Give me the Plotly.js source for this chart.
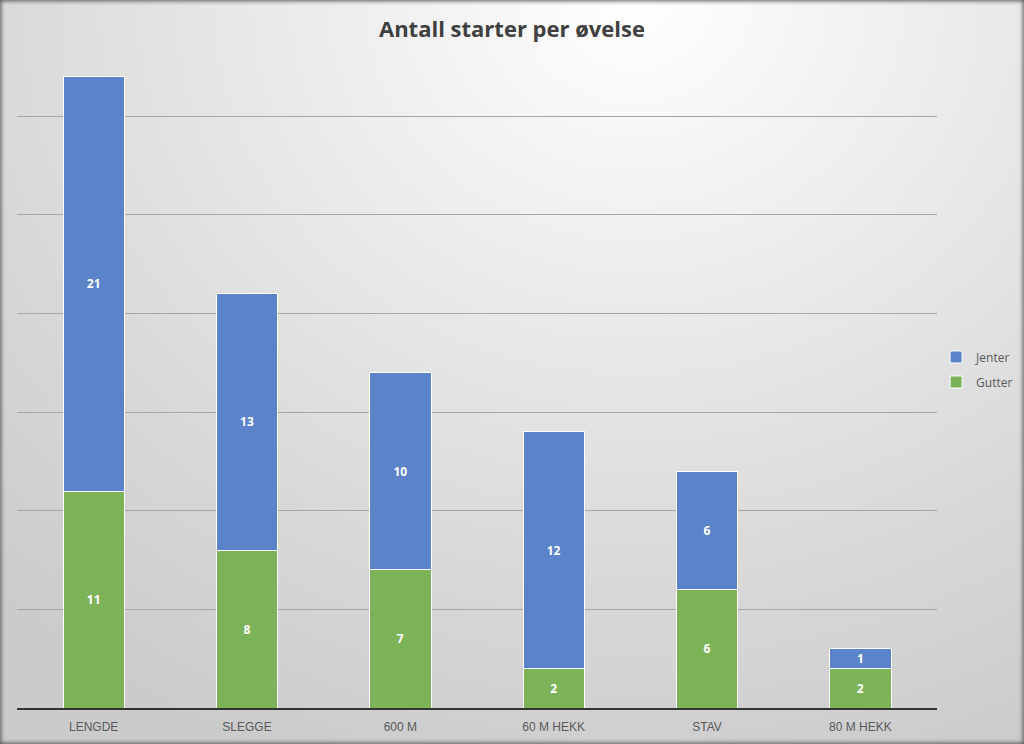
<!DOCTYPE html>
<html>
<head>
<meta charset="utf-8">
<script src="https://cdn.plot.ly/plotly-3.0.1.min.js"></script>
<style>
html,body{margin:0;padding:0;}
#wrap{width:1024px;height:744px;position:relative;overflow:hidden;
 background: radial-gradient(ellipse 90% 110% at 62% 0%, #ffffff 0%, #ececec 35%, #d9d9d9 70%, #cbcbcb 100%);
 box-shadow: inset 0 0 4px 1px #555;}
#chart{width:1024px;height:744px;}
</style>
</head>
<body>
<div id="wrap"><div id="chart"></div></div>
<script>
const categories = ["LENGDE", "SLEGGE", "600 M", "60 M HEKK", "STAV", "80 M HEKK"];
const gutter = [11, 8, 7, 2, 6, 2];
const jenter = [21, 13, 10, 12, 6, 1];

const labelFont = {family: "Open Sans, Liberation Sans, sans-serif", size: 12, color: "#ffffff", weight: "bold"};

const traces = [
  {type: "bar", name: "Gutter", legendgroup: "g", legendrank: 2, x: categories, y: gutter, text: gutter.map(String),
   textposition: "inside", insidetextanchor: "middle", textangle: 0, textfont: labelFont, constraintext: "none",
   marker: {color: "#7db358", line: {color: "#ffffff", width: 1}}, width: 0.4, hoverinfo: "x+y+name"},
  {type: "bar", name: "Jenter", legendgroup: "j", legendrank: 1, x: categories, y: jenter, text: jenter.map(String),
   textposition: "inside", insidetextanchor: "middle", textangle: 0, textfont: labelFont, constraintext: "none",
   marker: {color: "#5a83c9", line: {color: "#ffffff", width: 1}}, width: 0.4, hoverinfo: "x+y+name"}
];

const layout = {
  width: 1024, height: 744,
  paper_bgcolor: "rgba(0,0,0,0)", plot_bgcolor: "rgba(0,0,0,0)",
  barmode: "stack",
  margin: {l: 17, r: 87, t: 57, b: 36, autoexpand: false},
  title: {text: "<b>Antall starter per øvelse</b>", x: 0.5, xref: "container", xanchor: "center", y: 0.96, yanchor: "middle",
          font: {family: "Open Sans, Liberation Sans, sans-serif", size: 22, color: "#404040"}},
  xaxis: {showgrid: false, showline: true, linecolor: "#333333", linewidth: 2,
          tickfont: {family: "Liberation Sans Narrow, Liberation Sans, sans-serif", size: 12, color: "#595959"},
          ticks: "", ticklabelstandoff: 7, fixedrange: true},
  yaxis: {range: [0, 33], dtick: 5, showticklabels: false, showgrid: true, gridcolor: "#a6a6a6", gridwidth: 1,
          zeroline: false, showline: false, fixedrange: true},
  legend: {x: 0.999, xanchor: "left", y: 0.52, yanchor: "middle", traceorder: "grouped", tracegroupgap: 6,
           font: {family: "Open Sans, Liberation Sans, sans-serif", size: 12, color: "#595959"},
           bgcolor: "rgba(0,0,0,0)", itemwidth: 30},
  showlegend: true
};

Plotly.newPlot("chart", traces, layout, {displayModeBar: false});
</script>
</body>
</html>
